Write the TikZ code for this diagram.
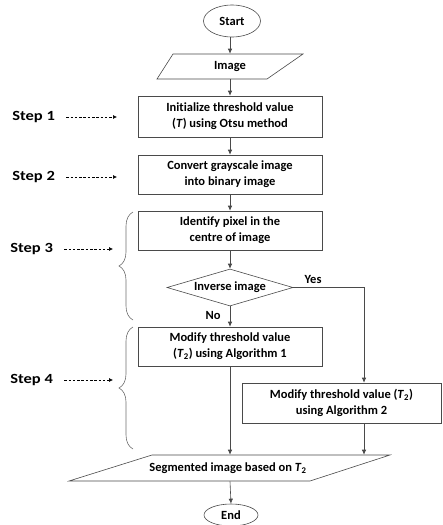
\documentclass[tikz,border=0pt]{standalone}
\usepackage{fontspec}
\setmainfont{Carlito}[Ligatures=NoCommon]
\newfontfamily\stepfont[FakeStretch=1.18]{Carlito}
\usetikzlibrary{arrows.meta,decorations.pathreplacing,shapes.geometric}
\definecolor{linegray}{HTML}{4A4A4A}
\begin{document}
\begin{tikzpicture}[x=1pt,y=-1pt,line width=0.6pt,
  font=\bfseries\fontsize{12.5}{16}\selectfont]
\tikzset{
  proc/.style={draw=linegray, rectangle, minimum width=184, minimum height=39, align=center, inner sep=0},
  term/.style={draw=linegray, ellipse, inner sep=0},
  iobox/.style={rectangle, inner sep=0, minimum height=25},
  para/.style={draw=linegray},
  flow/.style={draw=linegray, -{Latex[length=5pt,width=4.5pt]}},
  dasharrow/.style={draw=black, dash pattern=on 2.5pt off 1.8pt, -{Latex[length=4pt,width=4pt]}},
  steplabel/.style={font=\stepfont\bfseries\fontsize{14}{16}\selectfont, inner sep=0},
  bracestyle/.style={draw=linegray!80, decorate, decoration={brace, amplitude=14pt}},
  decide/.style={draw=linegray, diamond, aspect=3.4, inner sep=0, minimum width=126, minimum height=37}
}
\useasboundingbox (0,0) rectangle (442,525);

% nodes
\node[term, minimum width=57, minimum height=32] (start) at (232,21) {Start};
\node[iobox, minimum width=100] (img) at (230,66.5) {Image};
\draw[para] (173,54) -- (303,54) -- (267,79) -- (157,79) -- cycle;
\node[proc, minimum height=41] (b1) at (230,116.5) {Initialize threshold value\\(\textit{T}) using Otsu method};
\node[proc] (b2) at (230,174.5) {Convert grayscale image\\into binary image};
\node[proc] (b3) at (230,230.5) {Identify pixel in the\\centre of image};
\node[decide] (dia) at (230,287.5) {Inverse image};
\node[proc] (b4) at (230,346.5) {Modify threshold value\\(\textit{T}\textsubscript{2}) using Algorithm 1};
\node[proc, minimum width=199, minimum height=40] (b5) at (341.5,403) {Modify threshold value (\textit{T}\textsubscript{2})\\using Algorithm 2};
\node[iobox, minimum width=200, minimum height=26] (out) at (228,468) {Segmented image based on \textit{T}\textsubscript{2}};
\draw[para] (152,455) -- (390,455) -- (310,481) -- (69,481) -- cycle;
\node[term, minimum width=54, minimum height=22] (end) at (231,515) {End};

\coordinate (yesx) at (364,0);

% connectors
\draw[flow] (start.south -| img.north) -- (img.north);
\draw[flow] (img.south) -- (b1.north);
\draw[flow] (b1) -- (b2);
\draw[flow] (b2) -- (b3);
\draw[flow] (b3) -- (dia);
\draw[flow] (dia) -- node[pos=0.45, left=9pt, inner sep=0] (nolab) {No} (b4);
\draw[flow] (dia.east) -| node[pos=0.14, above=4pt, inner sep=0] (yeslab) {Yes} (b5.north -| yesx);
\draw[flow] (b4.south -| dia.south) -- (dia.south |- out.north);
\draw[flow] (b5.south -| yesx) -- (yesx |- out.north);
\draw[flow] (out.south -| dia.south) -- (end.north);

% step labels
\node[steplabel, anchor=west] (s1) at (12,117) {Step 1};
\node[steplabel, anchor=west] (s2) at (12,177) {Step 2};
\node[steplabel, anchor=west] (s3) at (10,249) {Step 3};
\node[steplabel, anchor=west] (s4) at (10,380) {Step 4};
\coordinate (e1) at (117,117);
\coordinate (e2) at (117,177);
\coordinate (e3) at (113,249);
\coordinate (e4) at (113,380);
\draw[dasharrow] ([xshift=11pt]s1.east) -- (e1);
\draw[dasharrow] ([xshift=11pt]s2.east) -- (e2);
\draw[dasharrow] ([xshift=11pt]s3.east) -- (e3);
\draw[dasharrow] ([xshift=11pt]s4.east) -- (e4);

% braces
\draw[bracestyle] (133,320) -- (133,212);
\draw[bracestyle] (133,449) -- (133,327);
\end{tikzpicture}
\end{document}
